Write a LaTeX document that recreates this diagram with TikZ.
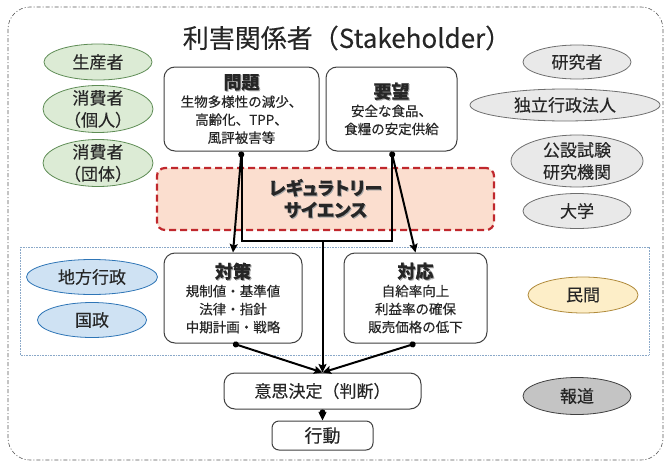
\documentclass[tikz,border=0pt]{standalone}
\usepackage{fontspec}
\setmainfont{Noto Sans CJK JP}[FakeBold=0.25]
\newfontfamily\rsfont{Noto Sans CJK JP}[RawFeature=+palt, FakeBold=0.25]
\usetikzlibrary{arrows.meta,shapes.geometric}
\definecolor{txt}{HTML}{262626}
\definecolor{grfill}{HTML}{DCEBD5}
\definecolor{grline}{HTML}{5E8C55}
\definecolor{gyfill}{HTML}{E9E9E9}
\definecolor{gyline}{HTML}{6E6E6E}
\definecolor{blfill}{HTML}{CFE2F3}
\definecolor{blline}{HTML}{2E75B6}
\definecolor{yefill}{HTML}{FDEEC8}
\definecolor{yeline}{HTML}{B08A3A}
\definecolor{pfill}{HTML}{C4C4C4}
\definecolor{pline}{HTML}{404040}
\definecolor{rsfill}{HTML}{FBDECF}
\definecolor{rsline}{HTML}{C0282D}
\definecolor{boxc}{HTML}{404040}
\definecolor{dotc}{HTML}{8AA8C8}
\newcommand{\shd}[1]{\rlap{\kern1pt\raisebox{-1pt}{\color{black!35}#1}}#1}
\newcommand{\hd}[1]{{\fontsize{18}{18}\selectfont\bfseries\shd{#1}}}
\begin{document}
\begin{tikzpicture}[x=1pt,y=-1pt,
  ell/.style={ellipse, draw, line width=0.8pt, inner sep=-6pt, align=center,
    font=\fontsize{17}{22}\selectfont, text=txt},
  grn/.style={ell, fill=grfill, draw=grline},
  gry/.style={ell, fill=gyfill, draw=gyline},
  blu/.style={ell, fill=blfill, draw=blline},
  yel/.style={ell, fill=yefill, draw=yeline},
  prs/.style={ell, fill=pfill, draw=pline},
  box/.style={draw=boxc, fill=white, rounded corners=11pt, line width=1pt,
    inner sep=0pt, align=center, text=txt, font=\fontsize{13.5}{18}\selectfont},
  rsbox/.style={draw=rsline, fill=rsfill, rounded corners=8pt, line width=2.2pt,
    dash pattern=on 7pt off 4pt},
  rstext/.style={align=center, font=\fontsize{18}{22}\rsfont\bfseries, inner sep=0pt},
  conn/.style={line width=2pt, draw=black},
  tip/.style={conn, -{Stealth[length=8.5pt,width=8pt,inset=1.5pt]}},
  arr/.style={conn, {Circle[length=6pt,width=6pt]}-{Stealth[length=8.5pt,width=8pt,inset=1.5pt]}}
]
\useasboundingbox (0,0) rectangle (666,463);
% outer boundary
\draw[draw=black!65, line width=0.6pt, rounded corners=22pt,
  dash pattern=on 4pt off 2pt on 1pt off 2pt] (8,7) rectangle (663,460);
% blue dotted band
\draw[draw=dotc, line width=0.9pt, dash pattern=on 0.8pt off 0.8pt] (20,247) rectangle (649,355);

\node[text=txt, font=\fontsize{26}{30}\selectfont, inner sep=0pt] (title) at (347,38) {利害関係者（Stakeholder）};

% left ellipses
\node[grn, minimum width=108pt, minimum height=36pt] (e1) at (98,62) {生産者};
\node[grn, minimum width=110pt, minimum height=47pt] (e2) at (98,109) {消費者\\（個人）};
\node[grn, minimum width=110pt, minimum height=47pt] (e3) at (98,163) {消費者\\（団体）};
% right ellipses
\node[gry, minimum width=108pt, minimum height=34pt] (g1) at (577,62) {研究者};
\node[gry, minimum width=190pt, minimum height=32pt] (g2) at (565,105) {独立行政法人};
\node[gry, minimum width=132pt, minimum height=52pt] (g3) at (577,161) {公設試験\\研究機関};
\node[gry, minimum width=108pt, minimum height=35pt] (g4) at (577,211) {大学};
% band ellipses
\node[blu, minimum width=131pt, minimum height=35pt] (b1) at (92,277) {地方行政};
\node[blu, minimum width=109pt, minimum height=35pt] (b2) at (92,320) {国政};
\node[yel, minimum width=110pt, minimum height=36pt] (y1) at (583,295) {民間};
\node[prs, minimum width=108pt, minimum height=37pt] (r1) at (577,396) {報道};

% boxes
\node[box, minimum width=155pt, minimum height=84pt] (mondai) at (241.5,109)
  {\hd{問題}\\生物多様性の減少、\\高齢化、TPP、\\風評被害等};
\node[box, minimum width=131pt, minimum height=84pt] (youbou) at (391.5,109)
  {\hd{要望}\\安全な食品、\\食糧の安定供給};
\node[rsbox, minimum width=337pt, minimum height=62pt] (rs) at (325.5,199) {};
\node[rstext, text=txt] (rstxt) at (325.5,199) {\shd{レギュラトリー}\\\shd{サイエンス}};
\node[box, minimum width=138pt, minimum height=90pt] (taisaku) at (233,298)
  {\hd{対策}\\規制値・基準値\\法律・指針\\中期計画・戦略};
\node[box, minimum width=143pt, minimum height=90pt] (taiou) at (415.5,298)
  {\hd{対応}\\自給率向上\\利益率の確保\\販売価格の低下};
\node[box, minimum width=197pt, minimum height=36pt, font=\fontsize{17}{20}\selectfont] (ishi) at (322.5,391) {意思決定（判断）};
\node[box, minimum width=101pt, minimum height=29pt, rounded corners=7pt, font=\fontsize{18}{20}\selectfont] (koudou) at (322.5,435.5) {行動};

% connectors
\draw[conn] (mondai.south) -- ++(0,89) coordinate (bl) -| (youbou.south);
\coordinate (bm) at (bl -| ishi.north);
\draw[tip] (bm) -- (ishi.north);
\draw[arr] (mondai.south) -- (taisaku.north);
\draw[arr] (youbou.south) -- (taiou.north);
\draw[arr] (taisaku.south) -- (ishi.north);
\draw[arr] (taiou.south) -- (ishi.north);
\draw[arr] (ishi.south) -- (koudou.north);
\end{tikzpicture}
\end{document}
